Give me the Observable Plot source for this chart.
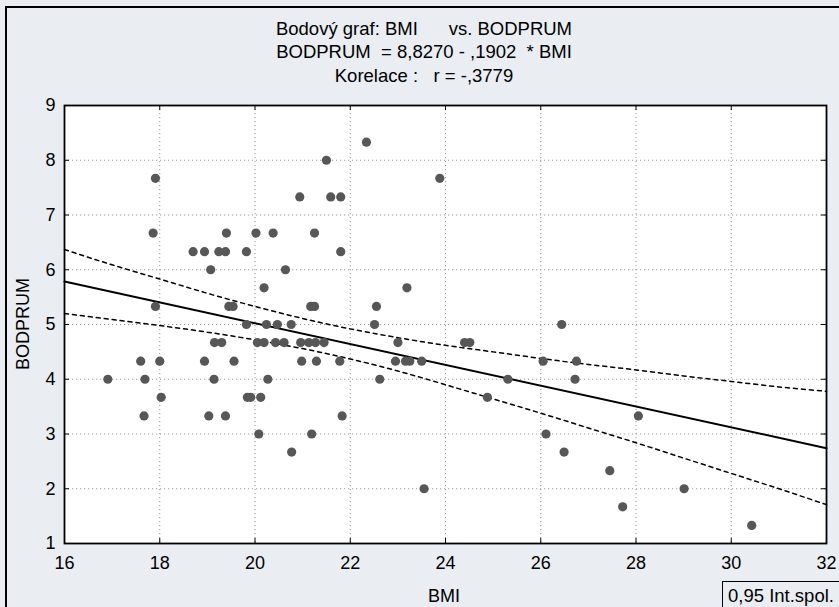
<!DOCTYPE html>
<html><head><meta charset="utf-8">
<script src="https://cdn.jsdelivr.net/npm/d3@7"></script>
<script src="https://cdn.jsdelivr.net/npm/@observablehq/plot@0.6"></script>
<style>
html,body{margin:0;padding:0;width:839px;height:607px;overflow:hidden;background:#eaedf1;font-family:"Liberation Sans",Arial,sans-serif;color:#000;}
#border{position:absolute;left:5px;top:6px;width:900px;height:700px;border:2.5px solid #000;box-sizing:border-box;}
#chart{position:absolute;left:0;top:0;}
.t{position:absolute;left:0;width:848px;text-align:center;font-size:18.5px;line-height:18px;white-space:pre;}
#xl{position:absolute;left:394px;width:100px;top:587px;text-align:center;font-size:18px;line-height:18px;}
#yl{position:absolute;left:-27px;top:315px;width:100px;text-align:center;font-size:18px;line-height:18px;transform:rotate(-90deg);}
#leg{position:absolute;left:722px;top:581px;width:140px;height:40px;border:1px solid #000;box-sizing:border-box;font-size:18.5px;line-height:18px;padding:5px 0 0 5px;white-space:pre;}
</style></head>
<body>
<div id="border"></div>
<div id="chart"></div>
<div class="t" style="top:20px">Bodový graf: BMI      vs. BODPRUM</div>
<div class="t" style="top:43px">BODPRUM  = 8,8270 - ,1902  * BMI</div>
<div class="t" style="top:67px">Korelace :   r = -,3779</div>
<div id="xl">BMI</div>
<div id="yl">BODPRUM</div>
<div id="leg">0,95 Int.spol.</div>
<script>
// scatter points
const BMI = [
  16.91, 17.60, 17.67, 17.69, 17.86, 17.91, 17.91, 18.00, 18.03,
  18.70, 18.94, 18.94, 19.03, 19.07, 19.14, 19.15, 19.24, 19.30, 19.38, 19.38, 19.40, 19.45, 19.54, 19.56,
  19.82, 19.82, 19.84, 19.91, 20.02, 20.05, 20.08, 20.12, 20.19, 20.19, 20.24, 20.27, 20.38, 20.43,
  20.47, 20.61, 20.64, 20.76, 20.77, 20.94, 20.96, 20.98, 21.13, 21.17, 21.19, 21.25, 21.25, 21.27, 21.29,
  21.45, 21.50, 21.59, 21.78, 21.80, 21.80, 21.83, 22.34, 22.51, 22.55, 22.62, 22.95, 23.00, 23.16,
  23.19, 23.25, 23.50, 23.55, 23.88, 24.40, 24.51, 24.88, 25.31, 26.05, 26.11, 26.44, 26.49, 26.72,
  26.75, 27.45, 27.72, 28.05, 29.01, 30.43
];
const BODPRUM = [
  4.00, 4.33, 3.33, 4.00, 6.67, 7.67, 5.33, 4.33, 3.67,
  6.33, 6.33, 4.33, 3.33, 6.00, 4.00, 4.67, 6.33, 4.67, 6.33, 3.33, 6.67, 5.33, 5.33, 4.33,
  6.33, 5.00, 3.67, 3.67, 6.67, 4.67, 3.00, 3.67, 5.67, 4.67, 5.00, 4.00, 6.67, 4.67,
  5.00, 4.67, 6.00, 5.00, 2.67, 7.33, 4.67, 4.33, 4.67, 5.33, 3.00, 5.33, 6.67, 4.67, 4.33,
  4.67, 8.00, 7.33, 4.33, 7.33, 6.33, 3.33, 8.33, 5.00, 5.33, 4.00, 4.33, 4.67, 4.33,
  5.67, 4.33, 4.33, 2.00, 7.67, 4.67, 4.67, 3.67, 4.00, 4.33, 3.00, 5.00, 2.67, 4.00,
  4.33, 2.33, 1.67, 3.33, 2.00, 1.33
];
// regression line endpoints
const fitBMI = [16, 32];
const fitBOD = [5.784, 2.741];
// 95% confidence band
const bandBMI   = [16, 17, 18, 19, 20, 21, 22, 23, 24, 25, 26, 27, 28, 29, 30, 31, 32];
const bandUpper = [6.37, 6.09, 5.83, 5.57, 5.33, 5.11, 4.92, 4.76, 4.62, 4.50, 4.38, 4.27, 4.17, 4.06, 3.96, 3.86, 3.78];
const bandLower = [5.20, 5.09, 4.98, 4.86, 4.72, 4.56, 4.37, 4.15, 3.90, 3.64, 3.38, 3.11, 2.84, 2.56, 2.28, 2.00, 1.71];
// ticks
const xTicks = [16, 18, 20, 22, 24, 26, 28, 30, 32];
const yTicks = [1, 2, 3, 4, 5, 6, 7, 8, 9];

const points = BMI.map((x, i) => ({x, y: BODPRUM[i]}));
const fit = fitBMI.map((x, i) => ({x, y: fitBOD[i]}));
const upper = bandBMI.map((x, i) => ({x, y: bandUpper[i]}));
const lower = bandBMI.map((x, i) => ({x, y: bandLower[i]}));

const W = 839, H = 607, mL = 64, mR = 13, mT = 105, mB = 64;
const pw = W - mL - mR, ph = H - mT - mB;
const grid = {stroke: "#9a9a9a", strokeOpacity: 1, strokeWidth: 1, strokeDasharray: "1.2,2.8"};
const fmt = d => String(d);
const chart = Plot.plot({
  width: W, height: H,
  marginLeft: mL, marginRight: mR, marginTop: mT, marginBottom: mB,
  style: {background: "transparent", fontFamily: "'Liberation Sans', Arial, sans-serif", fontSize: "18px", color: "#000", overflow: "visible"},
  x: {domain: [16, 32]},
  y: {domain: [1, 9]},
  marks: [
    Plot.frame({fill: "#fff", stroke: null}),
    Plot.gridX(xTicks.slice(1, -1), grid),
    Plot.gridY(yTicks.slice(1, -1), grid),
    Plot.line(upper, {x: "x", y: "y", stroke: "#000", strokeWidth: 1.5, strokeDasharray: "4,4", curve: "natural"}),
    Plot.line(lower, {x: "x", y: "y", stroke: "#000", strokeWidth: 1.5, strokeDasharray: "4,4", curve: "natural"}),
    Plot.line(fit, {x: "x", y: "y", stroke: "#000", strokeWidth: 2}),
    Plot.dot(points, {x: "x", y: "y", r: 4.6, fill: "#575757", stroke: null}),
    Plot.tickX(xTicks, {x: d => d, insetTop: ph - 5, stroke: "#000", strokeWidth: 1}),
    Plot.tickX(xTicks, {x: d => d, insetBottom: ph - 5, stroke: "#000", strokeWidth: 1}),
    Plot.tickY(yTicks, {y: d => d, insetRight: pw - 5, stroke: "#000", strokeWidth: 1}),
    Plot.tickY(yTicks, {y: d => d, insetLeft: pw - 5, stroke: "#000", strokeWidth: 1}),
    Plot.axisX(xTicks, {anchor: "bottom", tickSize: 0, tickPadding: 13, label: null, fontSize: 18, tickFormat: fmt}),
    Plot.axisY(yTicks, {anchor: "left", tickSize: 0, tickPadding: 9, label: null, fontSize: 18, tickFormat: fmt}),
    Plot.frame({stroke: "#000", strokeWidth: 1.8})
  ]
});
document.getElementById("chart").appendChild(chart);
</script>
</body></html>
